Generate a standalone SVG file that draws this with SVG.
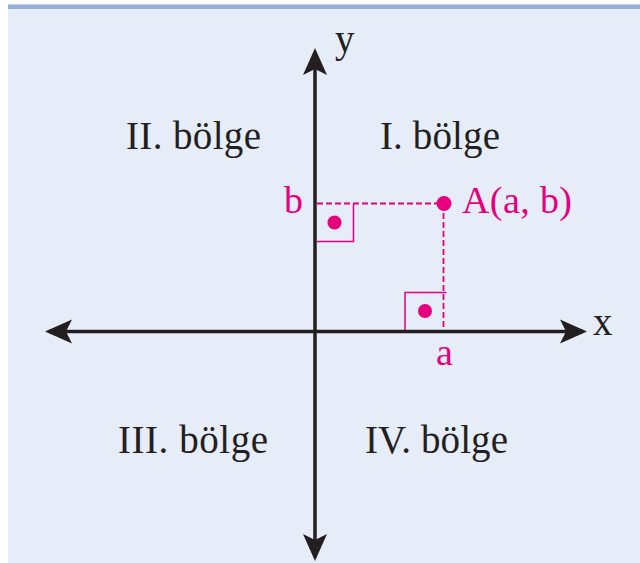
<svg xmlns="http://www.w3.org/2000/svg" width="640" height="563" viewBox="0 0 640 563">
  <style>
    .lbl { font-family: "Liberation Serif", "Times New Roman", serif; font-size: 39px; fill: #231F20; }
    .mag { font-family: "Liberation Serif", "Times New Roman", serif; font-size: 38px; fill: #E6007E; }
    .axis { stroke: #231F20; stroke-width: 3.5; fill: none; }
    .dash { stroke: #E6007E; stroke-width: 1.8; stroke-dasharray: 6 3; fill: none; }
    .box { stroke: #E6007E; stroke-width: 1.5; fill: none; }
    .dot { fill: #E6007E; }
  </style>
  <defs>
    <marker id="arrow" markerUnits="userSpaceOnUse" viewBox="-25 -13 30 26" markerWidth="30" markerHeight="26" refX="0" refY="0" orient="auto-start-reverse">
      <path d="M4,0 L-23,-12 L-17,0 L-23,12 Z" fill="#231F20"/>
    </marker>
  </defs>
  <rect x="0" y="0" width="640" height="563" fill="#FFFFFF"/>
  <rect x="8" y="4.5" width="632" height="560" fill="#E6ECF8"/>
  <rect x="8" y="4.5" width="632" height="4.5" fill="#93B0DC"/>

  <g id="connectors">
    <line id="x-axis" class="axis" x1="49" y1="331.5" x2="583" y2="331.5" marker-start="url(#arrow)" marker-end="url(#arrow)"/>
    <line id="y-axis" class="axis" x1="315" y1="52" x2="315" y2="557" marker-start="url(#arrow)" marker-end="url(#arrow)"/>
    <line class="dash" x1="317" y1="203.5" x2="444" y2="203.5"/>
    <line class="dash" x1="443.5" y1="204" x2="443.5" y2="330"/>
  </g>

  <g id="right-angle-y">
    <polyline class="box" points="317,241.5 353.5,241.5 353.5,203.5"/>
    <circle class="dot" cx="334.5" cy="222.5" r="7"/>
  </g>
  <g id="right-angle-x">
    <polyline class="box" points="405,330 405,292.5 446.5,292.5"/>
    <circle class="dot" cx="425" cy="311" r="7"/>
  </g>
  <g id="point-A">
    <circle class="dot" cx="444" cy="203.5" r="7.5"/>
    <text class="mag" x="462" y="213" textLength="110">A(a, b)</text>
  </g>
  <g id="tick-labels">
    <text class="mag" x="284" y="213">b</text>
    <text class="mag" x="436" y="365">a</text>
  </g>
  <g id="axis-labels">
    <text class="lbl" x="335" y="52">y</text>
    <text class="lbl" x="593" y="335">x</text>
  </g>
  <g id="quadrants">
    <text class="lbl" x="126" y="149" textLength="135">II. bölge</text>
    <text class="lbl" x="380" y="149" textLength="120">I. bölge</text>
    <text class="lbl" x="118" y="453" textLength="150">III. bölge</text>
    <text class="lbl" x="365" y="453" textLength="143">IV. bölge</text>
  </g>
</svg>
